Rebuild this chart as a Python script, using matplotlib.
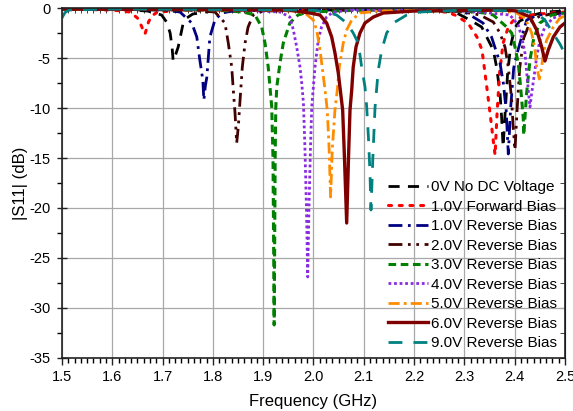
import matplotlib
matplotlib.use("Agg")
from matplotlib import pyplot as plt
from matplotlib.ticker import MultipleLocator, FormatStrFormatter

plt.rcParams['font.family'] = ['Liberation Sans', 'DejaVu Sans']
plt.rcParams['axes.unicode_minus'] = False

# frequency (GHz) / |S11| (dB) points
f_0v = [1.5, 1.6, 1.67, 1.698, 1.708, 1.715, 1.719, 1.721, 1.725, 1.731, 1.741, 1.748, 1.76, 1.8, 2.0, 2.2,
        2.26, 2.2847, 2.311, 2.3344, 2.3575, 2.364, 2.3708, 2.374, 2.377, 2.381, 2.386, 2.392, 2.40, 2.41, 2.43, 2.46, 2.5]
s_0v = [-0.1, -0.1, -0.3, -0.7, -1.4, -2.5, -4.0, -5.3, -4.8, -3.9, -1.5, -1.0, -0.6, -0.3, -0.2, -0.2,
        -0.3, -0.5, -1.2, -1.9, -4.2, -5.9, -8.5, -10.9, -13.9, -10.5, -6.5, -3.8, -2.0, -1.3, -0.8, -0.4, -0.3]

f_1f = [1.5, 1.6, 1.635, 1.65, 1.658, 1.662, 1.665, 1.668, 1.672, 1.678, 1.69, 1.75, 2.0, 2.2, 2.25, 2.27, 2.281,
        2.307, 2.325, 2.335, 2.341, 2.347, 2.351, 2.355, 2.358, 2.361, 2.365, 2.37, 2.377, 2.388, 2.40, 2.43, 2.47, 2.5]
s_1f = [-0.1, -0.2, -0.4, -1.0, -1.8, -2.3, -2.6, -2.1, -1.4, -0.8, -0.4, -0.2, -0.1, -0.2, -0.3, -0.5, -0.7,
        -1.5, -2.9, -4.2, -6.5, -8.9, -10.5, -12.2, -13.5, -14.7, -10.5, -6.5, -3.5, -1.8, -1.1, -0.7, -0.5, -0.4]

f_1r = [1.5, 1.7, 1.7346, 1.758, 1.768, 1.774, 1.780, 1.782, 1.785, 1.788, 1.791, 1.794, 1.804, 1.8175, 1.84, 1.9,
        2.1, 2.25, 2.28, 2.3046, 2.337, 2.354, 2.3708, 2.3774, 2.383, 2.3853, 2.3873, 2.392, 2.398, 2.4066, 2.414,
        2.424, 2.446, 2.476, 2.5]
s_1r = [-0.1, -0.2, -0.4, -1.5, -2.9, -5.2, -7.2, -9.2, -7.8, -6.9, -4.9, -2.9, -1.2, -0.5, -0.3, -0.2,
        -0.1, -0.2, -0.3, -0.5, -1.5, -2.9, -5.5, -7.5, -10.2, -12.5, -14.6, -10.0, -6.0, -4.2, -2.9,
        -1.2, -0.7, -0.6, -0.5]

f_2r = [1.5, 1.75, 1.804, 1.824, 1.8306, 1.8374, 1.8406, 1.844, 1.8473, 1.8505, 1.854, 1.8585, 1.864, 1.870, 1.880,
        1.90, 2.1, 2.28, 2.31, 2.331, 2.3575, 2.3708, 2.3807, 2.3873, 2.3906, 2.394, 2.397, 2.4006, 2.405, 2.41,
        2.418, 2.43, 2.45, 2.5]
s_2r = [-0.1, -0.2, -0.4, -1.5, -3.5, -5.9, -8.2, -10.5, -13.5, -11.9, -9.2, -5.9, -3.5, -1.9, -0.7,
        -0.3, -0.2, -0.3, -0.5, -0.7, -1.4, -2.5, -3.9, -5.9, -7.5, -9.2, -11.9, -14.2, -10.0, -6.0,
        -3.0, -1.5, -0.8, -0.4]

f_3r = [1.5, 1.8, 1.86, 1.8837, 1.897, 1.9036, 1.910, 1.9135, 1.917, 1.9195, 1.9208, 1.9218, 1.9228, 1.9238, 1.925,
        1.927, 1.9334, 1.940, 1.953, 1.969, 1.99, 2.1, 2.3, 2.34, 2.3575, 2.384, 2.394, 2.4006, 2.407, 2.4105,
        2.414, 2.417, 2.418, 2.4238, 2.427, 2.4304, 2.438, 2.450, 2.4735, 2.5]
s_3r = [-0.1, -0.2, -0.4, -0.7, -1.9, -3.5, -5.9, -7.9, -9.9, -15, -24, -31.7, -24, -15, -10,
        -7.9, -5.5, -3.5, -1.5, -0.7, -0.4, -0.2, -0.3, -0.5, -0.7, -1.9, -2.5, -3.9, -5.5, -7.2,
        -9.2, -11, -12.7, -8.5, -6.9, -5.2, -3.0, -1.5, -0.7, -0.5]

f_4r = [1.5, 1.85, 1.9334, 1.953, 1.960, 1.9666, 1.9732, 1.9766, 1.980, 1.983, 1.986, 1.9885, 1.991, 1.994, 1.9965,
        2.003, 2.0095, 2.016, 2.026, 2.039, 2.08, 2.25, 2.33, 2.3906, 2.407, 2.414, 2.4205, 2.424, 2.427, 2.4304,
        2.4338, 2.4384, 2.4437, 2.4503, 2.460, 2.476, 2.496, 2.5]
s_4r = [-0.1, -0.2, -0.4, -0.9, -2.2, -3.9, -5.9, -7.5, -9.5, -14, -20, -26.9, -20, -14, -9.9,
        -5.9, -3.2, -1.9, -0.9, -0.4, -0.2, -0.2, -0.4, -0.7, -1.7, -2.9, -4.5, -6.5, -8.2, -9.9,
        -8.5, -6.9, -4.9, -3.2, -1.9, -1.0, -0.7, -0.7]

f_5r = [1.5, 1.9, 1.96, 1.983, 1.9996, 2.0063, 2.013, 2.018, 2.023, 2.0274, 2.031, 2.034, 2.0375, 2.0427, 2.0473,
        2.0513, 2.0592, 2.066, 2.076, 2.0925, 2.13, 2.3, 2.38, 2.404, 2.4205, 2.4338, 2.4404, 2.4437, 2.449, 2.4537,
        2.457, 2.4636, 2.4768, 2.490, 2.5]
s_5r = [-0.1, -0.2, -0.3, -0.5, -1.2, -2.2, -4.2, -6.2, -8.2, -10.2, -14, -18.9, -14, -10.2, -8.2,
        -5.9, -3.5, -2.2, -1.2, -0.5, -0.3, -0.2, -0.3, -0.5, -1.0, -2.5, -4.2, -5.9, -7.1, -5.9,
        -4.5, -3.2, -1.9, -1.0, -0.8]

f_6r = [1.5, 1.95, 1.993, 2.0129, 2.0262, 2.0362, 2.0427, 2.0493, 2.054, 2.058, 2.0616, 2.066, 2.0696, 2.0726, 2.076,
        2.079, 2.0845, 2.0924, 2.1024, 2.119, 2.1388, 2.2, 2.38, 2.404, 2.4304, 2.4437, 2.4537, 2.4602, 2.4668,
        2.4768, 2.490, 2.5]
s_6r = [-0.1, -0.2, -0.5, -0.7, -1.5, -2.9, -4.5, -6.5, -8.5, -10.2, -15, -21.5, -15, -10.2, -8.2,
        -5.9, -3.9, -2.5, -1.5, -0.9, -0.5, -0.3, -0.2, -0.3, -0.9, -2.2, -3.9, -5.3, -4.2,
        -2.9, -1.9, -1.5]

f_9r = [1.5, 1.503, 1.507, 1.515, 1.6, 2.0, 2.0328, 2.046, 2.066, 2.079, 2.089, 2.0958, 2.1024, 2.1058, 2.1093,
        2.1123, 2.1143, 2.118, 2.1223, 2.1288, 2.1356, 2.1455, 2.1587, 2.1853, 2.2117, 2.3, 2.42, 2.445, 2.46,
        2.476, 2.49, 2.5]
s_9r = [-1.0, -0.7, -0.4, -0.2, -0.1, -0.2, -0.5, -0.7, -1.5, -2.5, -3.5, -5.9, -7.9, -9.9, -13,
        -16.5, -20.2, -15, -10, -6.2, -4.2, -2.5, -1.5, -0.7, -0.4, -0.2, -0.3, -0.6, -1.2,
        -2.5, -3.6, -4.6]

labels = ['0V No DC Voltage', '1.0V Forward Bias', '1.0V Reverse Bias', '2.0V Reverse Bias',
          '3.0V Reverse Bias', '4.0V Reverse Bias', '5.0V Reverse Bias', '6.0V Reverse Bias',
          '9.0V Reverse Bias']
series = [(f_0v, s_0v), (f_1f, s_1f), (f_1r, s_1r), (f_2r, s_2r), (f_3r, s_3r),
          (f_4r, s_4r), (f_5r, s_5r), (f_6r, s_6r), (f_9r, s_9r)]
colors = ['black', '#ff0000', '#000080', '#420000', '#008000', '#8a2be2', '#ff8c00', '#800000', '#008080']
styles = [(0, (4, 3)), (0, (1, 2.5)), (0, (5, 2, 1, 2)), (0, (5, 2, 1, 2, 1, 2)), (0, (2.5, 1.5)),
          (0, (1, 1)), (0, (4, 1.5, 1, 1.5)), '-', (0, (5, 4))]
widths = [2, 2.2, 2, 2, 2.2, 2, 2, 2.4, 2]

fig = plt.figure(figsize=(5.73, 4.11), dpi=100)
ax = fig.add_axes([0.1082, 0.129, 0.8778, 0.8515])

for (f, s), lab, c, ls, lw in zip(series, labels, colors, styles, widths):
    ax.plot(f, s, color=c, linestyle=ls, linewidth=lw, label=lab,
            dash_capstyle='round' if ls == (0, (1, 2.5)) else 'butt')

ax.set_xlim(1.5, 2.5)
ax.set_ylim(-35, 0)
ax.xaxis.set_major_locator(MultipleLocator(0.1))
ax.xaxis.set_minor_locator(MultipleLocator(0.0125))
ax.yaxis.set_major_locator(MultipleLocator(5))
ax.yaxis.set_minor_locator(MultipleLocator(2.5))
ax.xaxis.set_major_formatter(FormatStrFormatter('%.1f'))
ax.grid(True, which='major', color='#a8a8a8', linewidth=0.9)
ax.set_axisbelow(True)

ax.tick_params(axis='both', which='major', labelsize=10.5, color='#222222')
ax.tick_params(axis='y', which='major', direction='inout', length=7, width=1, pad=5)
ax.tick_params(axis='y', which='minor', direction='out', length=3.5, width=1)
ax.tick_params(axis='x', which='major', direction='out', length=5, width=1)
ax.tick_params(axis='x', which='minor', direction='out', length=3.5, width=1)
for sp in ax.spines.values():
    sp.set_linewidth(1.2)
    sp.set_color('#222222')

sec_y = ax.secondary_yaxis('right')
sec_y.yaxis.set_major_locator(MultipleLocator(5))
sec_y.yaxis.set_minor_locator(MultipleLocator(2.5))
sec_y.tick_params(which='both', direction='in', labelright=False, length=3.5, color='#222222')
sec_x = ax.secondary_xaxis('top')
sec_x.xaxis.set_major_locator(MultipleLocator(0.1))
sec_x.xaxis.set_minor_locator(MultipleLocator(0.0125))
sec_x.tick_params(which='both', direction='in', labeltop=False, length=3.5, color='#222222')

ax.set_xlabel('Frequency (GHz)', fontsize=12, labelpad=7)
ax.set_ylabel('|S11| (dB)', fontsize=12, labelpad=1)

ax.legend(loc='lower right', bbox_to_anchor=(1.0, 0.0), frameon=False, fontsize=11,
          handlelength=2.6, handletextpad=0.25, labelspacing=0.36, borderaxespad=0.1)

fig.savefig('out.png', dpi=100)
